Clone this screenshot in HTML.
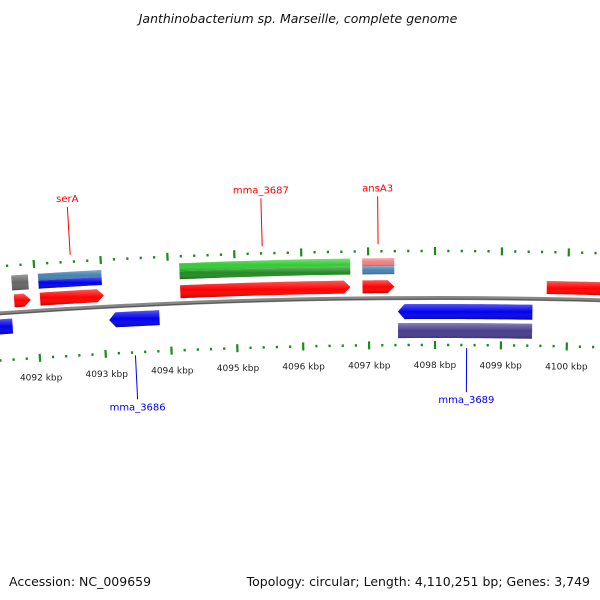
<!DOCTYPE html>
<html><head><meta charset="utf-8"><style>
body{margin:0;background:#fff;}
svg{display:block;font-family:"DejaVu Sans","Liberation Sans",sans-serif;}
</style></head><body>
<svg id="map" width="600" height="600" viewBox="0 0 600 600">
<defs>
<linearGradient id="shade" x1="0" y1="0" x2="0" y2="1">
<stop offset="0" stop-color="#fff" stop-opacity="0.35"/><stop offset="0.5" stop-color="#fff" stop-opacity="0"/><stop offset="1" stop-color="#000" stop-opacity="0.25"/>
</linearGradient>
</defs>
<text x="298" y="23" text-anchor="middle" font-size="12.5" font-style="italic" fill="#111">Janthinobacterium sp. Marseille, complete genome</text>
<text x="9" y="586" font-size="12.5" fill="#111">Accession: NC_009659</text>
<text x="590" y="586" text-anchor="end" font-size="12.5" fill="#111">Topology: circular; Length: 4,110,251 bp; Genes: 3,749</text>
<g id="g"></g>
</svg>
<script>
// data (kbp)
const featStart = [4091.25,4091.65,4092.05,4092.05,4091.67,4092.06,4093.08,4094.17,4094.17,4094.17,4096.91,4096.91,4096.91,4097.44,4097.44,4099.68];
const featEnd   = [4091.62,4091.90,4093.00,4093.00,4091.92,4093.02,4093.84,4096.73,4096.73,4096.73,4097.39,4097.39,4097.39,4099.47,4099.47,4100.8];
const featColor = ['#0000ee','#666666','#4682b4','#0000ee','#ff0000','#ff0000','#0000ee','#33cc33','#228b22','#ff0000','#f08080','#4682b4','#ff0000','#0000ee','#483d8b','#ff0000'];
const featInner = [-21,22,30,22,5,5,-21,32,24,5,32,24,5,-21,-40,5];
const featOuter = [-6,37,37,30,18,18,-6,40,32,18,40,32,18,-6,-25,18];
const featArrow = [-1,0,0,0,1,1,-1,0,0,1,0,0,1,-1,0,0];
const labelText = ['serA','mma_3687','ansA3','mma_3686','mma_3689'];
const labelPos  = [4092.55,4095.42,4097.15,4093.45,4098.48];
const labelSide = [1,1,1,-1,-1];
const tickStart = 4091.4, tickEnd = 4100.8;
const R = 6160, CX = 435, CY = 298 + R, PXK = 66.4, CENTER = 4098;
function ang(k){return (k-CENTER)*PXK/R;}
function pt(k,off){const a=ang(k),r=R+off;return [CX+r*Math.sin(a),CY-r*Math.cos(a)];}
const NS='http://www.w3.org/2000/svg';
const G=document.getElementById('g');
function mk(t,at){const e=document.createElementNS(NS,t);for(const k in at)e.setAttribute(k,at[k]);G.appendChild(e);return e;}
function arcPath(k1,k2,off){const n=20;let s='';for(let i=0;i<=n;i++){const p=pt(k1+(k2-k1)*i/n,off);s+=(i?'L':'M')+p[0].toFixed(2)+' '+p[1].toFixed(2);}return s;}
let bb=mk('path',{d:arcPath(4090.8,4101.2,0),stroke:'#888',"stroke-width":4,fill:'none'});


let bb2=mk('path',{d:arcPath(4090.8,4101.2,-1),stroke:'#555',"stroke-width":1,fill:'none'});


for(let i=0;i<featStart.length;i++){
 const s=featStart[i],e=featEnd[i],a=featInner[i],b=featOuter[i],ar=featArrow[i];
 const head=0.1,mid=(a+b)/2;
 let d='';
 if(ar===1){d=arcPath(s,e-head,b)+'L'+pt(e,mid).join(' ')+'L'+pt(e-head,a).join(' ')+arcPath(e-head,s,a).replace('M','L')+'Z';}
 else if(ar===-1){d='M'+pt(s,mid).join(' ')+arcPath(s+head,e,b).replace('M','L')+arcPath(e,s+head,a).replace('M','L')+'Z';}
 else{d=arcPath(s,e,b)+arcPath(e,s,a).replace('M','L')+'Z';}
 const p=mk('path',{d:d,fill:featColor[i]});
 
 
 const q=mk('path',{d:d,fill:'url(#shade)'});
 
 
}
for(let j=0;tickStart+j*0.2<=tickEnd+1e-9;j++){
 const k=Math.round((tickStart+j*0.2)*10)/10;
 const major=Math.abs(k-Math.round(k))<1e-6;
 const len=major?8:2.5;
 for(const side of [1,-1]){
  const o=47*side;
  const p1=pt(k,o-len/2),p2=pt(k,o+len/2);
  const l=mk('line',{x1:p1[0],y1:p1[1],x2:p2[0],y2:p2[1],stroke:'#1a8a1a',"stroke-width":2.2});
  
  
 }
 if(major){
  const p=pt(k,-66);
  const t=mk('text',{x:p[0],y:p[1]+4,"text-anchor":'middle',"font-size":9,fill:'#222'});
  t.textContent=Math.round(k)+' kbp';
  
  
 }
}
for(let i=0;i<labelText.length;i++){
 const k=labelPos[i],side=labelSide[i],col=side>0?'#ff0000':'#0000ee';
 const p1=pt(k,side>0?54:-50),p2=pt(k,side>0?102:-94);
 const l=mk('line',{x1:p1[0],y1:p1[1],x2:p2[0],y2:p2[1],stroke:col,"stroke-width":1});
 
 
 const t=mk('text',{x:p2[0],y:side>0?p2[1]-5:p2[1]+11,"text-anchor":'middle',"font-size":10,fill:col});
 t.textContent=labelText[i];
 
 
}
</script>
</body></html>
